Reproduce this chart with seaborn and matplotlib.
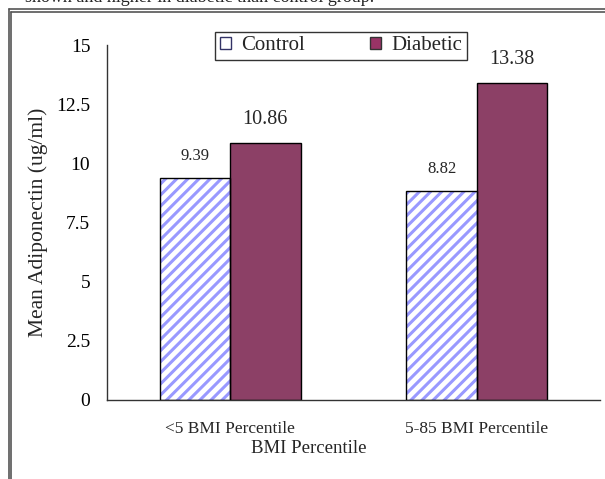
import numpy as np
import matplotlib
matplotlib.use('Agg')
import matplotlib.pyplot as plt
import pandas as pd
import seaborn as sns
from matplotlib.lines import Line2D
from matplotlib.patches import Rectangle

# data
categories = ['<5 BMI Percentile', '5-85 BMI Percentile']
groups = ['Control', 'Diabetic']
control_vals = [9.39, 8.82]
diabetic_vals = [10.86, 13.38]
y_ticks = [0, 2.5, 5, 7.5, 10, 12.5, 15]
y_tick_labels = ['0', '2.5', '5', '7.5', '10', '12.5', '15']

df = pd.DataFrame({
    'BMI': categories * 2,
    'Group': ['Control'] * 2 + ['Diabetic'] * 2,
    'Value': control_vals + diabetic_vals,
})

sns.set_theme(style='white')
plt.rcParams['font.family'] = ['Liberation Serif', 'DejaVu Serif']
plt.rcParams['hatch.linewidth'] = 2.2

W, H = 605, 479
fig = plt.figure(figsize=(6.05, 4.79), dpi=100)
ax = fig.add_axes([107 / W, 1 - 400 / H, 493 / W, 355 / H])

sns.barplot(data=df, x='BMI', y='Value', hue='Group', order=categories,
            hue_order=groups, palette={'Control': 'white', 'Diabetic': '#993366'},
            width=0.57, edgecolor='black', linewidth=1.0, ax=ax, legend=False)

# hatch the control bars with light blue stripes, keep a black outline
for bar in ax.containers[0]:
    bar.set_facecolor('white')
    bar.set_edgecolor('#9999FF')
    bar.set_hatch('///')
    bar.set_linewidth(0)
    ax.add_patch(Rectangle(bar.get_xy(), bar.get_width(), bar.get_height(),
                           facecolor='none', edgecolor='black', linewidth=1.0, zorder=3))

# value labels
for bar, v in zip(ax.containers[0], control_vals):
    ax.text(bar.get_x() + bar.get_width() / 2, v + 0.6, f'{v:.2f}',
            ha='center', va='bottom', fontsize=12)
for bar, v in zip(ax.containers[1], diabetic_vals):
    ax.text(bar.get_x() + bar.get_width() / 2, v + 0.6, f'{v:.2f}',
            ha='center', va='bottom', fontsize=14.5)

ax.set_xlim(-0.5, 1.5)
ax.set_ylim(0, 15)
ax.set_yticks(y_ticks)
ax.set_yticklabels(y_tick_labels, fontsize=14)
ax.set_xticks([0, 1])
ax.set_xticklabels(categories, fontsize=12.5)
ax.set_xticks([-0.5, 0.5, 1.5], minor=True)
ax.tick_params(axis='x', which='major', length=0, pad=15)
ax.tick_params(axis='x', which='minor', length=5, width=1, direction='out', colors='#333333')
ax.tick_params(axis='y', length=5, width=1, direction='out', colors='#333333', labelcolor='black', pad=7)
ax.set_xlabel('BMI Percentile', fontsize=13.5, labelpad=0)
ax.xaxis.set_label_coords((309 - 107) / 493, -0.112)
ax.set_ylabel('Mean Adiponectin (ug/ml)', fontsize=15.5, labelpad=6)
for s in ['top', 'right']:
    ax.spines[s].set_visible(False)
for s in ['left', 'bottom']:
    ax.spines[s].set_color('#333333')
    ax.spines[s].set_linewidth(1)

handles = [
    Rectangle((0, 0), 1, 1, facecolor='white', edgecolor='#333366', linewidth=1),
    Rectangle((0, 0), 1, 1, facecolor='#993366', edgecolor='#333333', linewidth=1),
]
leg = fig.legend(handles, groups, loc='center', bbox_to_anchor=(341 / W, 1 - 46 / H),
                 ncol=2, frameon=True, fancybox=False, fontsize=15, handlelength=0.55,
                 handleheight=0.55, handletextpad=0.5, columnspacing=3.1,
                 borderpad=0.2, borderaxespad=0)
leg.get_frame().set_edgecolor('black')
leg.get_frame().set_linewidth(1)

# double frame of the scanned page
for off in (8.5, 11.5):
    fig.add_artist(Line2D([off / W, off / W], [0, 1 - off / H], transform=fig.transFigure,
                          color='#555555', linewidth=1.2))
    fig.add_artist(Line2D([off / W, 1], [1 - off / H, 1 - off / H], transform=fig.transFigure,
                          color='#555555', linewidth=1.2))

# cut-off caption line at the very top of the page
fig.text(25 / W, 1 - 1.5 / H, 'shown and higher in diabetic than control group.',
         fontsize=13, ha='left', va='baseline')

fig.savefig('out.png', dpi=100)
